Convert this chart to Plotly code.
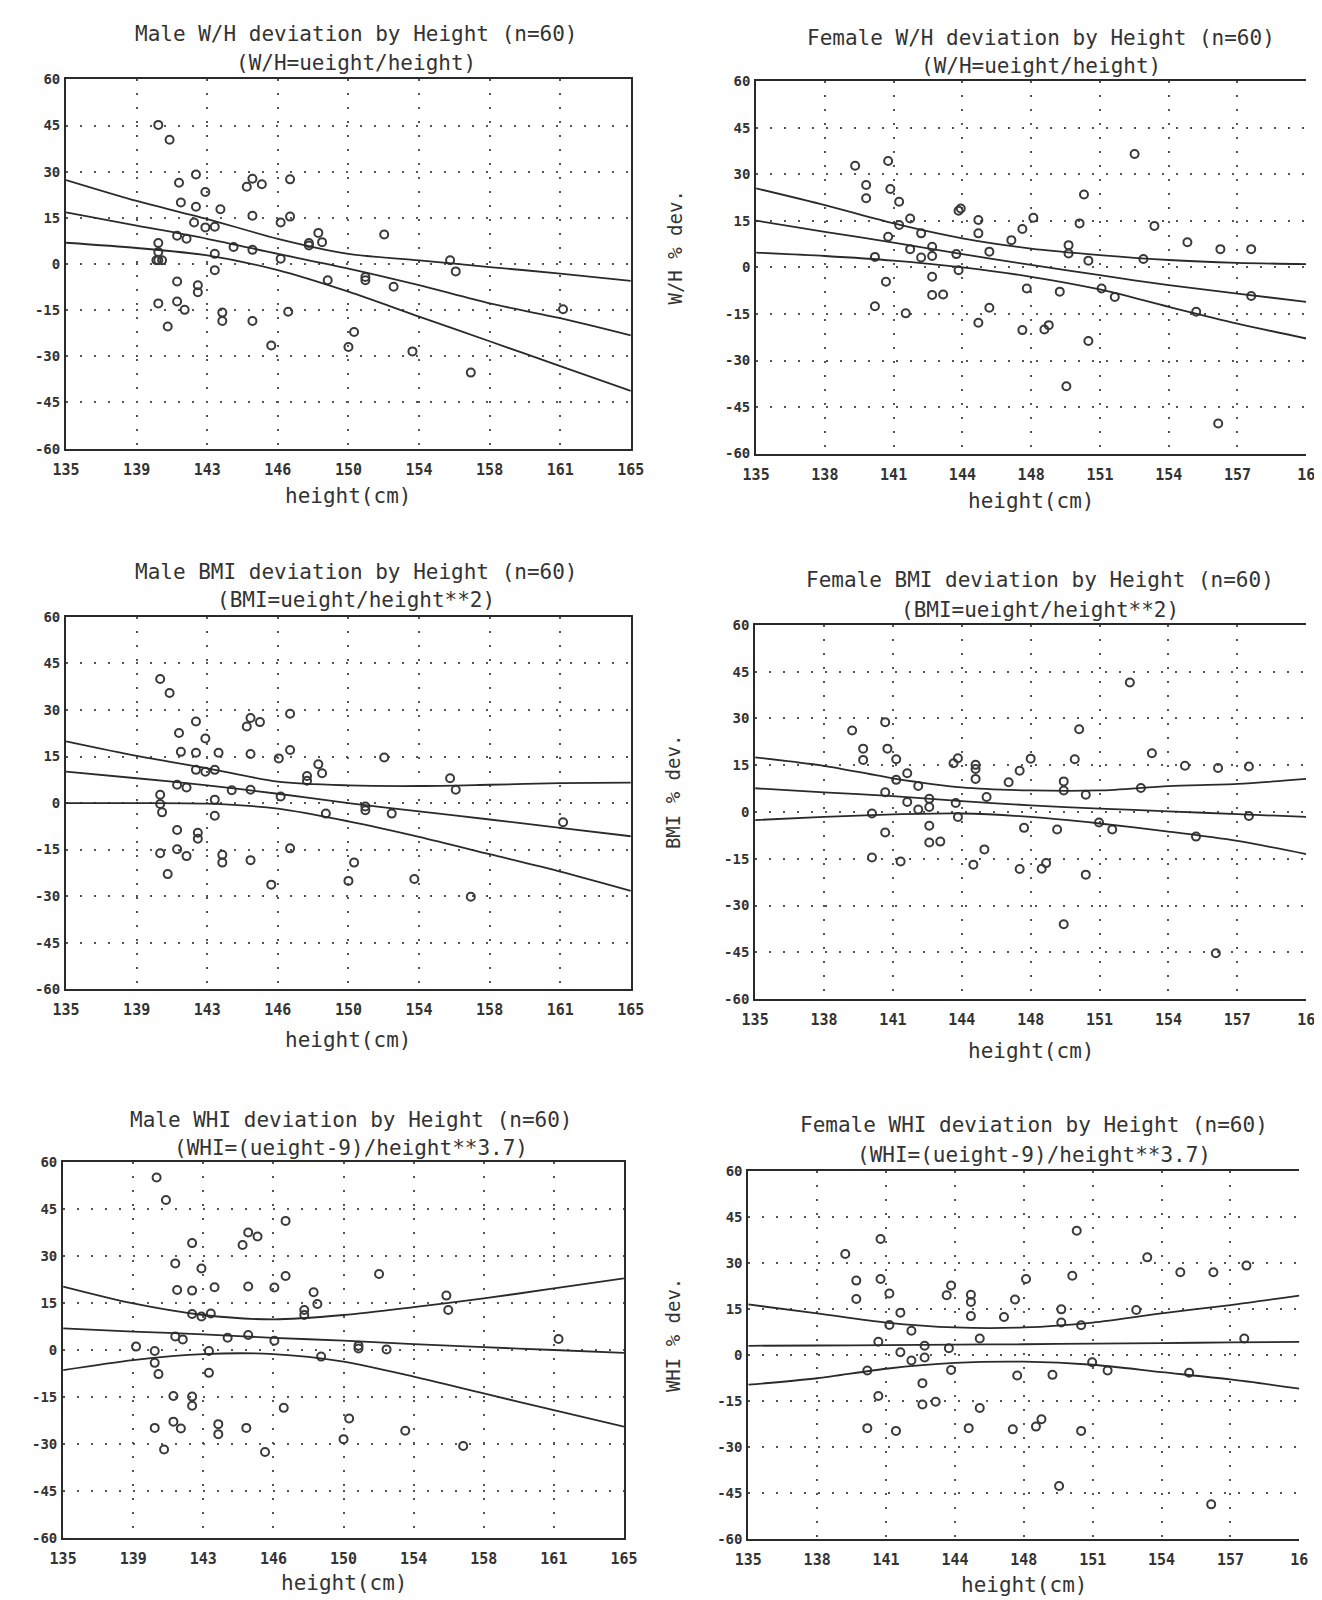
import plotly.graph_objects as go

W, H = 1322, 1600

# ---------------- data ----------------
male_ticks_x = [135, 138.75, 142.5, 146.25, 150, 153.75, 157.5, 161.25, 165]
male_tick_text = ["135", "139", "143", "146", "150", "154", "158", "161", "165"]
female_ticks_x = [135, 138.125, 141.25, 144.375, 147.5, 150.625, 153.75, 156.875, 160]
female_tick_text = ["135", "138", "141", "144", "148", "151", "154", "157", "16"]
y_ticks = [-60, -45, -30, -15, 0, 15, 30, 45, 60]
y_tick_text = ["-60", "-45", "-30", "-15", "0", "15", "30", "45", "60"]

# Male W/H
male_wh_h = [139.9, 140.5, 141.0, 141.9, 142.4, 141.1, 141.9, 143.2, 144.6, 144.9, 145.4, 146.9,
             144.9, 146.9, 146.4, 141.8, 142.4, 142.9, 140.9, 141.4, 139.9, 139.9, 139.9, 140.1,
             142.9, 143.9, 144.9, 146.4, 147.9, 148.4, 148.6, 142.9, 140.9, 142.0, 142.0, 139.9,
             140.9, 141.3, 143.3, 143.3, 144.9, 146.8, 140.4, 145.9, 150.0, 150.3, 148.9, 150.9,
             150.9, 152.4, 151.9, 153.4, 155.4, 155.7, 156.5, 161.4, 139.8, 147.9]
male_wh_dev = [45.2, 40.4, 26.4, 29.1, 23.4, 20.0, 18.6, 17.8, 25.1, 27.7, 25.9, 27.5,
               15.7, 15.4, 13.5, 13.5, 11.9, 12.1, 9.2, 8.2, 6.8, 3.9, 1.2, 1.2,
               3.3, 5.5, 4.6, 1.7, 6.8, 10.1, 7.1, -2.0, -5.7, -6.9, -9.2, -12.8,
               -12.2, -14.9, -15.8, -18.5, -18.5, -15.5, -20.3, -26.5, -27.0, -22.1, -5.3, -4.2,
               -5.3, -7.4, 9.6, -28.4, 1.2, -2.4, -35.3, -14.7, 1.2, 6.0]
male_wh_upper = [27.3, 20.5, 14.6, 8.2, 3.3, 1.2, -1.0, -3.1, -5.5]
male_wh_mid = [16.8, 12.5, 8.2, 3.3, -1.5, -6.9, -12.8, -17.6, -23.2]
male_wh_lower = [6.9, 5.2, 2.8, -2.0, -9.0, -17.1, -25.1, -33.2, -41.2]

# Female W/H
female_wh_h = [139.5, 140.0, 140.0, 141.0, 141.1, 141.5, 142.0, 141.0, 141.5, 142.5, 143.0, 142.0,
               140.4, 142.5, 143.0, 144.1, 144.2, 144.2, 144.3, 145.1, 145.1, 145.6, 146.6, 147.1,
               147.6, 140.9, 143.0, 143.0, 143.5, 140.4, 141.8, 145.6, 145.1, 147.1, 148.1, 148.3,
               147.3, 148.8, 149.2, 149.7, 149.9, 150.1, 150.1, 149.1, 150.7, 151.3, 152.2, 152.6,
               153.1, 154.6, 155.0, 156.1, 157.5, 157.5, 156.0, 149.2]
female_wh_dev = [32.8, 26.6, 22.3, 34.3, 25.3, 21.2, 15.8, 9.9, 13.7, 11.0, 6.7, 5.9,
                 3.4, 3.2, 3.7, 4.3, -0.9, 18.3, 19.0, 15.3, 11.0, 5.1, 8.8, 12.4,
                 16.0, -4.6, -3.0, -8.9, -8.7, -12.5, -14.8, -13.0, -17.8, -20.2, -20.0, -18.6,
                 -6.8, -7.8, 7.2, 14.2, 23.5, 2.2, -23.7, -38.3, -6.8, -9.5, 36.6, 2.7,
                 13.4, 8.1, -14.3, 5.9, 5.9, -9.2, -50.3, 4.5]
female_wh_upper = [25.5, 20.1, 14.2, 9.4, 6.1, 4.0, 2.4, 1.5, 1.1]
female_wh_mid = [15.1, 11.5, 8.0, 4.3, 0.8, -2.5, -5.7, -8.4, -11.1]
female_wh_lower = [4.8, 3.7, 2.2, 0.0, -3.0, -7.1, -12.7, -18.1, -22.9]

# Male BMI
male_bmi_h = [140.0, 140.5, 141.0, 141.9, 142.4, 141.1, 141.9, 143.1, 144.6, 144.8, 145.3, 146.9,
              144.8, 146.3, 146.9, 141.9, 142.4, 142.9, 140.9, 141.4, 140.0, 140.0, 140.1, 142.9,
              142.9, 143.8, 144.8, 146.4, 147.8, 147.8, 148.4, 148.6, 148.8, 150.9, 150.9, 152.3,
              151.9, 155.4, 155.7, 140.9, 142.0, 142.0, 140.0, 140.9, 141.4, 143.3, 143.3, 144.8,
              146.9, 140.4, 145.9, 150.0, 150.3, 153.5, 156.5, 161.4]
male_bmi_dev = [40.0, 35.5, 22.6, 26.3, 20.8, 16.5, 16.2, 16.2, 24.7, 27.4, 26.1, 28.8,
                15.8, 14.4, 17.1, 10.7, 10.1, 10.7, 5.9, 5.0, 2.7, -0.3, -3.0, 1.1,
                -4.1, 4.1, 4.3, 2.1, 8.7, 7.2, 12.5, 9.6, -3.4, -1.1, -2.3, -3.4,
                14.7, 8.0, 4.3, -8.7, -9.6, -11.5, -16.2, -14.9, -17.1, -16.7, -19.2, -18.4,
                -14.6, -22.9, -26.3, -25.1, -19.2, -24.5, -30.2, -6.2]
male_bmi_upper = [19.9, 15.2, 11.2, 6.9, 5.7, 5.5, 5.9, 6.4, 6.6]
male_bmi_mid = [10.1, 8.0, 5.7, 3.0, 0.0, -2.7, -5.3, -8.0, -10.7]
male_bmi_lower = [0.0, 0.0, -0.2, -1.8, -5.9, -10.9, -16.5, -22.1, -28.3]

# Female BMI
female_bmi_h = [139.4, 139.9, 139.9, 140.9, 141.0, 141.4, 141.9, 142.4, 141.4, 140.9, 141.9, 142.4,
                142.9, 142.9, 140.3, 140.9, 140.3, 141.6, 142.9, 142.9, 143.4, 144.1, 144.2, 144.0,
                144.2, 145.0, 145.0, 145.0, 145.5, 145.4, 144.9, 146.5, 147.0, 147.5, 147.2, 147.0,
                148.0, 148.2, 148.7, 149.0, 149.0, 149.0, 149.5, 149.7, 150.0, 150.0, 150.6, 151.2,
                152.0, 152.5, 153.0, 154.5, 155.0, 156.0, 155.9, 157.4, 157.4]
female_bmi_dev = [26.1, 20.3, 16.7, 28.8, 20.3, 16.9, 12.4, 8.3, 10.3, 6.3, 3.2, 0.8,
                  1.6, 4.2, -0.5, -6.6, -14.6, -15.9, -4.4, -9.8, -9.5, 2.9, -1.6, 15.6,
                  17.2, 15.1, 13.8, 10.6, 4.8, -12.0, -16.9, 9.5, 13.2, 17.1, -5.1, -18.3,
                  -18.2, -16.4, -5.6, -36.0, 9.8, 6.9, 16.9, 26.5, 5.5, -20.1, -3.4, -5.6,
                  41.5, 7.7, 18.8, 14.8, -7.9, 14.1, -45.3, 14.6, -1.3]
female_bmi_upper = [17.5, 14.8, 10.8, 7.9, 6.9, 6.9, 8.3, 9.0, 10.6]
female_bmi_mid = [7.6, 6.3, 5.1, 3.5, 2.1, 1.1, 0.2, -0.7, -1.6]
female_bmi_lower = [-2.6, -1.6, -0.8, -0.5, -1.6, -3.7, -6.3, -9.3, -13.5]

# Male WHI
male_whi_h = [140.0, 140.5, 141.9, 142.4, 141.0, 141.1, 141.9, 143.1, 144.6, 144.9, 145.4, 146.9,
              144.9, 146.3, 146.9, 148.4, 148.6, 147.9, 147.9, 141.9, 142.4, 142.9, 151.9, 155.5,
              155.6, 161.5, 141.0, 141.4, 143.8, 144.9, 146.3, 138.9, 139.9, 139.9, 140.1, 142.8,
              142.8, 148.8, 150.8, 150.8, 152.3, 140.9, 141.9, 141.9, 146.8, 139.9, 140.9, 141.3,
              143.3, 143.3, 144.8, 140.4, 145.8, 150.3, 150.0, 153.3, 156.4]
male_whi_dev = [55.2, 48.0, 34.2, 26.1, 27.7, 19.2, 19.0, 20.1, 33.6, 37.6, 36.3, 41.3,
                20.3, 20.0, 23.7, 18.5, 14.7, 12.8, 11.2, 11.5, 10.7, 11.7, 24.3, 17.4,
                12.8, 3.5, 4.3, 3.4, 3.9, 4.8, 3.0, 1.1, -0.3, -4.1, -7.7, -0.3,
                -7.3, -2.1, 1.4, 0.5, 0.2, -14.7, -14.9, -17.8, -18.5, -24.9, -22.9, -25.1,
                -23.7, -26.9, -24.9, -31.8, -32.6, -21.9, -28.5, -25.8, -30.7]
male_whi_upper = [20.3, 14.9, 11.2, 9.8, 11.2, 13.7, 16.5, 19.7, 22.9]
male_whi_mid = [6.9, 5.9, 5.0, 3.9, 3.0, 1.9, 0.9, 0.0, -0.9]
male_whi_lower = [-6.4, -3.2, -1.3, -1.3, -3.7, -8.5, -13.9, -19.2, -24.5]

# Female WHI
female_whi_h = [139.4, 139.9, 139.9, 141.0, 141.0, 141.4, 141.9, 141.4, 142.4, 140.9, 141.9, 142.4,
                143.0, 143.0, 140.4, 140.9, 140.4, 141.7, 142.9, 142.9, 143.5, 144.1, 144.2, 144.0,
                144.2, 145.1, 145.1, 145.1, 145.5, 145.5, 145.0, 146.6, 147.1, 147.6, 147.2, 147.0,
                148.05, 148.3, 148.8, 149.1, 149.2, 149.2, 149.7, 149.9, 150.1, 150.1, 150.6, 151.3,
                152.6, 153.1, 154.6, 155.0, 156.1, 156.0, 157.6, 157.5]
female_whi_dev = [33.0, 24.3, 18.3, 37.9, 24.8, 20.1, 13.8, 9.8, 7.9, 4.3, 0.9, -1.8,
                  -0.8, 3.0, -5.1, -13.4, -23.9, -24.8, -9.2, -16.2, -15.3, 2.2, -4.9, 19.5,
                  22.7, 19.7, 17.3, 12.7, 5.4, -17.3, -23.9, 12.4, 18.1, 24.8, -6.7, -24.3,
                  -23.4, -21.0, -6.5, -42.8, 14.9, 10.6, 25.9, 40.6, 9.7, -24.8, -2.4, -5.1,
                  14.7, 31.9, 27.0, -5.8, 27.0, -48.8, 29.2, 5.4]
female_whi_upper = [16.5, 13.6, 10.6, 9.0, 9.0, 10.6, 13.6, 16.3, 19.4]
female_whi_mid = [3.0, 3.1, 3.2, 3.4, 3.5, 3.7, 3.9, 4.1, 4.3]
female_whi_lower = [-9.7, -7.6, -4.5, -2.6, -2.2, -3.2, -5.6, -8.0, -11.0]

titles = [
    ("Male W/H deviation by Height (n=60)", "(W/H=ueight/height)"),
    ("Female W/H deviation by Height (n=60)", "(W/H=ueight/height)"),
    ("Male BMI deviation by Height (n=60)", "(BMI=ueight/height**2)"),
    ("Female BMI deviation by Height (n=60)", "(BMI=ueight/height**2)"),
    ("Male WHI deviation by Height (n=60)", "(WHI=(ueight-9)/height**3.7)"),
    ("Female WHI deviation by Height (n=60)", "(WHI=(ueight-9)/height**3.7)"),
]
y_titles = [None, "W/H % dev.", None, "BMI % dev.", None, "WHI % dev."]

# ---------------- layout geometry (pixels) ----------------
boxes = [  # left, right, top, bottom
    (45, 622, 64, 437),
    (750, 1312, 66, 442),
    (45, 622, 607, 983),
    (749, 1312, 615, 993),
    (42, 615, 1158, 1537),
    (742, 1305, 1167, 1538),
]
title_y = [(18, 47), (22, 50), (562, 590), (570, 600), (1115, 1143), (1120, 1150)]
xtitle_y = [485, 490, 1034, 1045, 1583, 1585]
ytitle_x = [None, 667, None, 665, None, 665]

panels = [
    (male_wh_h, male_wh_dev, male_wh_upper, male_wh_mid, male_wh_lower, True),
    (female_wh_h, female_wh_dev, female_wh_upper, female_wh_mid, female_wh_lower, False),
    (male_bmi_h, male_bmi_dev, male_bmi_upper, male_bmi_mid, male_bmi_lower, True),
    (female_bmi_h, female_bmi_dev, female_bmi_upper, female_bmi_mid, female_bmi_lower, False),
    (male_whi_h, male_whi_dev, male_whi_upper, male_whi_mid, male_whi_lower, True),
    (female_whi_h, female_whi_dev, female_whi_upper, female_whi_mid, female_whi_lower, False),
]

INK = "#333333"
FONT = "DejaVu Sans Mono"


def fx(p):
    return p / W


def fy(p):
    return 1 - p / H


fig = go.Figure()
layout = dict(
    width=W, height=H, margin=dict(l=0, r=0, t=0, b=0),
    paper_bgcolor="white", plot_bgcolor="white", showlegend=False,
    font=dict(family=FONT, color=INK),
)
annotations = []

for i, (hx, dev, up, mid, lo, is_male) in enumerate(panels):
    n = i + 1
    xa = "x" if n == 1 else f"x{n}"
    ya = "y" if n == 1 else f"y{n}"
    fit_x = male_ticks_x if is_male else female_ticks_x
    tick_text = male_tick_text if is_male else female_tick_text
    L, R, T, B = boxes[i]

    fig.add_trace(go.Scatter(
        x=hx, y=dev, mode="markers", xaxis=xa, yaxis=ya,
        marker=dict(symbol="circle-open", size=8, color="#3a3a3a",
                    line=dict(width=2, color="#3a3a3a")),
    ))
    for band in (up, mid, lo):
        fig.add_trace(go.Scatter(
            x=fit_x, y=band, mode="lines", xaxis=xa, yaxis=ya,
            line=dict(color="#2a2a2a", width=1.8, shape="spline", smoothing=0.8),
        ))

    layout[f"xaxis{'' if n == 1 else n}"] = dict(
        domain=[fx(L), fx(R)], anchor=ya, range=[fit_x[0], fit_x[-1]],
        tickmode="array", tickvals=fit_x, ticktext=tick_text,
        showline=True, linecolor="#2a2a2a", linewidth=2, mirror=True,
        showgrid=True, gridcolor="#555555", gridwidth=2, griddash="2px,12px",
        zeroline=False, ticks="", ticklabelstandoff=6,
        tickfont=dict(family=FONT, size=15, color=INK, weight="bold"),
    )
    layout[f"yaxis{'' if n == 1 else n}"] = dict(
        domain=[fy(B), fy(T)], anchor=xa, range=[-60, 60],
        tickmode="array", tickvals=y_ticks, ticktext=y_tick_text,
        showline=True, linecolor="#2a2a2a", linewidth=2, mirror=is_male,
        showgrid=True, gridcolor="#555555", gridwidth=2, griddash="2px,12px",
        zeroline=False, ticks="", ticklabelstandoff=1,
        tickfont=dict(family=FONT, size=14, color=INK, weight="bold"),
    )

    cx = (L + R) / 2 + (8 if is_male else 10)
    t1, t2 = titles[i]
    annotations.append(dict(text=t1, x=fx(cx), y=fy(title_y[i][0]), xref="paper", yref="paper",
                            showarrow=False, xanchor="center", yanchor="middle",
                            font=dict(family=FONT, size=21, color=INK)))
    annotations.append(dict(text=t2, x=fx(cx), y=fy(title_y[i][1]), xref="paper", yref="paper",
                            showarrow=False, xanchor="center", yanchor="middle",
                            font=dict(family=FONT, size=21, color=INK)))
    annotations.append(dict(text="height(cm)", x=fx((L + R) / 2), y=fy(xtitle_y[i]),
                            xref="paper", yref="paper", showarrow=False,
                            xanchor="center", yanchor="middle",
                            font=dict(family=FONT, size=21, color=INK)))
    if y_titles[i]:
        annotations.append(dict(text=y_titles[i], x=fx(ytitle_x[i]), y=fy((T + B) / 2 - 20),
                                xref="paper", yref="paper", showarrow=False, textangle=-90,
                                xanchor="center", yanchor="middle",
                                font=dict(family=FONT, size=19, color=INK)))

layout["annotations"] = annotations
fig.update_layout(**layout)
fig.write_html("out.html")
